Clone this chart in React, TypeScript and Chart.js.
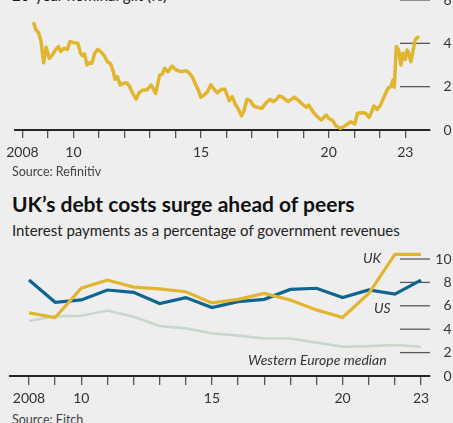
import React, { useEffect, useRef } from "react";
import { Chart, registerables } from "chart.js";
Chart.register(...registerables);

// ---------- Data ----------
const giltDates = [
  2008.43, 2008.53, 2008.63, 2008.72, 2008.83, 2008.93, 2009.05, 2009.17, 2009.31, 2009.41,
  2009.5, 2009.63, 2009.76, 2009.86, 2010.02, 2010.17, 2010.28, 2010.36, 2010.43, 2010.53,
  2010.62, 2010.72, 2010.83, 2010.95, 2011.07, 2011.21, 2011.33, 2011.46, 2011.57, 2011.63,
  2011.72, 2011.83, 2011.95, 2012.08, 2012.19, 2012.31, 2012.45, 2012.57, 2012.73, 2012.88,
  2013.05, 2013.22, 2013.38, 2013.48, 2013.57, 2013.7, 2013.86, 2014.02, 2014.21, 2014.41,
  2014.54, 2014.67, 2014.79, 2014.9, 2014.99, 2015.12, 2015.25, 2015.38, 2015.51, 2015.64,
  2015.8, 2015.93, 2016.02, 2016.11, 2016.22, 2016.34, 2016.48, 2016.58, 2016.67, 2016.8,
  2016.93, 2017.06, 2017.19, 2017.38, 2017.53, 2017.7, 2017.83, 2017.96, 2018.05, 2018.16,
  2018.41, 2018.65, 2018.8, 2018.93, 2019.12, 2019.21, 2019.38, 2019.55, 2019.71, 2019.9,
  2020.0, 2020.16, 2020.29, 2020.45, 2020.59, 2020.74, 2020.87, 2021.02, 2021.13, 2021.32,
  2021.45, 2021.58, 2021.67, 2021.77, 2021.9, 2022.03, 2022.14, 2022.26, 2022.35, 2022.44,
  2022.52, 2022.57, 2022.65, 2022.74, 2022.83, 2022.91, 2023.0, 2023.07, 2023.14, 2023.22,
  2023.3, 2023.39, 2023.48, 2023.55,
];
const giltYields = [
  4.97, 4.62, 4.49, 4.15, 3.1, 3.82, 3.31, 3.46, 3.72, 3.85,
  3.62, 3.77, 3.72, 4.08, 4.03, 4.0, 3.54, 3.42, 3.51, 3.0,
  3.1, 3.08, 3.54, 3.72, 3.62, 3.42, 3.15, 3.05, 2.65, 2.34,
  2.46, 2.08, 2.15, 2.18, 2.03, 1.72, 1.42, 1.72, 1.85, 1.85,
  2.08, 1.69, 2.54, 2.58, 2.85, 2.69, 2.95, 2.77, 2.69, 2.74,
  2.62, 2.43, 2.08, 1.82, 1.51, 1.62, 1.77, 2.08, 1.88, 1.72,
  1.88, 1.88, 1.62, 1.35, 1.54, 1.2, 0.92, 0.65, 0.85, 1.42,
  1.35, 1.11, 1.05, 1.0, 1.23, 1.42, 1.31, 1.42, 1.57, 1.54,
  1.31, 1.51, 1.38, 1.23, 1.05, 1.15, 0.85, 0.62, 0.46, 0.69,
  0.54, 0.43, 0.18, 0.08, 0.15, 0.28, 0.38, 0.28, 0.77, 0.8,
  0.77, 0.58, 0.8, 1.11, 0.95, 1.15, 1.46, 1.77, 1.97, 2.0,
  2.31, 1.97, 3.85, 3.69, 3.0, 3.54, 3.26, 3.69, 3.54, 3.15,
  3.62, 4.18, 4.28, 4.23,
];

const years = [2008, 2009, 2010, 2011, 2012, 2013, 2014, 2015, 2016, 2017, 2018, 2019, 2020, 2021, 2022, 2023];
const ukInterest = [5.4, 5.0, 7.5, 8.2, 7.6, 7.45, 7.2, 6.25, 6.55, 7.05, 6.5, 5.65, 5.0, 7.05, 10.4, 10.4];
const usInterest = [8.2, 6.3, 6.5, 7.35, 7.15, 6.2, 6.7, 5.85, 6.35, 6.55, 7.4, 7.5, 6.7, 7.35, 7.0, 8.2];
const weMedian = [4.7, 5.1, 5.15, 5.6, 5.07, 4.27, 4.07, 3.65, 3.45, 3.2, 3.2, 2.85, 2.5, 2.55, 2.65, 2.5];

const xLabelYears = [2008, 2010, 2015, 2020, 2023];
const xLabelTexts = ["2008", "10", "15", "20", "23"];
const giltYTicks = [0, 2, 4, 6];
const debtYTicks = [0, 2, 4, 6, 8, 10];

// ---------- Styles ----------
const BG = "#eeeeee";
const GOLD = "#e2b530";
const BLUE = "#0f6590";
const PALE = "#c6d9cc";
const FONT = "Lato, 'Open Sans', sans-serif";
const TEXT = "#333333";

const shortGrid = {
  id: "shortGrid",
  beforeDatasetsDraw(chart: any, _args: any, opts: any) {
    const { ctx, chartArea, scales } = chart;
    const y = scales.y;
    ctx.save();
    ctx.strokeStyle = opts.color || "#555";
    ctx.lineWidth = opts.width || 1.2;
    for (const t of y.ticks) {
      if (t.value === 0) continue;
      const py = y.getPixelForValue(t.value);
      ctx.beginPath();
      ctx.moveTo(chartArea.right - (opts.length || 30), py);
      ctx.lineTo(chartArea.right, py);
      ctx.stroke();
    }
    ctx.restore();
  },
};

function xAxis(min: number, max: number, height: number, tickLength: number, pad: number) {
  return {
    type: "linear" as const,
    min,
    max,
    afterBuildTicks: (s: any) => {
      s.ticks = years.map((v) => ({ value: v }));
    },
    afterFit: (s: any) => {
      s.height = height;
    },
    grid: {
      drawOnChartArea: false,
      drawTicks: true,
      tickLength,
      color: "#555",
      lineWidth: 1.3,
    },
    border: { display: true, color: "#262626", width: 2 },
    ticks: {
      autoSkip: false,
      maxRotation: 0,
      padding: pad,
      color: TEXT,
      font: { family: FONT, size: 14 },
      callback: (v: any) => {
        const i = xLabelYears.indexOf(Number(v));
        return i >= 0 ? xLabelTexts[i] : "";
      },
    },
  };
}

function yAxis(min: number, max: number, tickVals: number[]) {
  return {
    position: "right" as const,
    min,
    max,
    afterBuildTicks: (s: any) => {
      s.ticks = tickVals.map((v) => ({ value: v }));
    },
    afterFit: (s: any) => {
      s.width = 21.5;
    },
    grid: { display: false, drawTicks: false },
    border: { display: false },
    ticks: {
      crossAlign: "far" as const,
      padding: 0,
      color: TEXT,
      font: { family: FONT, size: 14 },
    },
  };
}

function GiltChart() {
  const ref = useRef<HTMLCanvasElement>(null);
  useEffect(() => {
    const chart = new Chart(ref.current!, {
      type: "line",
      data: {
        datasets: [
          {
            data: giltDates.map((x, i) => ({ x, y: giltYields[i] })),
            borderColor: GOLD,
            borderWidth: 3.5,
            pointRadius: 0,
            tension: 0,
            clip: false as any,
            borderJoinStyle: "round",
          },
        ],
      },
      options: {
        animation: false,
        responsive: false,
        maintainAspectRatio: false,
        layout: { padding: { top: 10, left: 10, right: 1.5, bottom: 0 } },
        plugins: {
          legend: { display: false },
          tooltip: { enabled: false },
          shortGrid: { color: "#5a5a5a", width: 1.3, length: 30 },
        } as any,
        scales: {
          x: xAxis(2008 - 8 / 25.8, 2023 + 25 / 25.8, 35, 8, 6) as any,
          y: yAxis(0, 6, giltYTicks) as any,
        },
      },
      plugins: [shortGrid],
    });
    return () => chart.destroy();
  }, []);
  return (
    <canvas
      ref={ref}
      width={453}
      height={175}
      style={{ position: "absolute", left: 0, top: -10, width: 453, height: 175 }}
    />
  );
}

function DebtChart() {
  const ref = useRef<HTMLCanvasElement>(null);
  useEffect(() => {
    const chart = new Chart(ref.current!, {
      type: "line",
      data: {
        datasets: [
          {
            label: "UK",
            data: years.map((x, i) => ({ x, y: ukInterest[i] })),
            borderColor: GOLD,
            borderWidth: 3.2,
            pointRadius: 0,
            tension: 0,
            clip: false as any,
            order: 0,
          },
          {
            label: "US",
            data: years.map((x, i) => ({ x, y: usInterest[i] })),
            borderColor: BLUE,
            borderWidth: 3.2,
            pointRadius: 0,
            tension: 0,
            clip: false as any,
            order: 1,
          },
          {
            label: "Western Europe median",
            data: years.map((x, i) => ({ x, y: weMedian[i] })),
            borderColor: PALE,
            borderWidth: 2.6,
            pointRadius: 0,
            tension: 0,
            clip: false as any,
            order: 2,
          },
        ],
      },
      options: {
        animation: false,
        responsive: false,
        maintainAspectRatio: false,
        layout: { padding: { top: 13.15, left: 10, right: 1.5, bottom: 0 } },
        plugins: {
          legend: { display: false },
          tooltip: { enabled: false },
          shortGrid: { color: "#5a5a5a", width: 1.3, length: 30 },
        } as any,
        scales: {
          x: xAxis(2008 - 19 / 26.13, 2023 + 9 / 26.13, 34, 9, 5) as any,
          y: yAxis(0, 10.5, debtYTicks) as any,
        },
      },
      plugins: [shortGrid],
    });
    return () => chart.destroy();
  }, []);
  return (
    <canvas
      ref={ref}
      width={453}
      height={170}
      style={{ position: "absolute", left: 0, top: 240, width: 453, height: 170 }}
    />
  );
}

const abs = (s: React.CSSProperties): React.CSSProperties => ({
  position: "absolute",
  whiteSpace: "nowrap",
  fontFamily: FONT,
  lineHeight: 1,
  margin: 0,
  ...s,
});

export default function App() {
  return (
    <div
      style={{
        position: "fixed",
        left: 0,
        top: 0,
        width: 453,
        height: 423,
        overflow: "hidden",
        background: BG,
      }}
    >
      <div style={abs({ left: 12, top: -12, fontSize: 15, color: "#1a1a1a" })}>
        20-year nominal gilt (%)
      </div>
      <GiltChart />
      <div style={abs({ left: 12, top: 166, fontSize: 12.5, color: "#444" })}>Source: Refinitiv</div>
      <div style={abs({ left: 12, top: 193, fontSize: 21, fontWeight: 700, color: "#111" })}>
        UK’s debt costs surge ahead of peers
      </div>
      <div style={abs({ left: 12, top: 223, fontSize: 15, color: "#222" })}>
        Interest payments as a percentage of government revenues
      </div>
      <DebtChart />
      <div style={abs({ left: 363, top: 251, fontSize: 14, fontStyle: "italic", color: TEXT })}>UK</div>
      <div style={abs({ left: 374, top: 301, fontSize: 14, fontStyle: "italic", color: TEXT })}>US</div>
      <div style={abs({ left: 248, top: 353, fontSize: 14, fontStyle: "italic", color: TEXT })}>
        Western Europe median
      </div>
      <div style={abs({ left: 12, top: 414, fontSize: 12.5, color: "#444" })}>Source: Fitch</div>
    </div>
  );
}
